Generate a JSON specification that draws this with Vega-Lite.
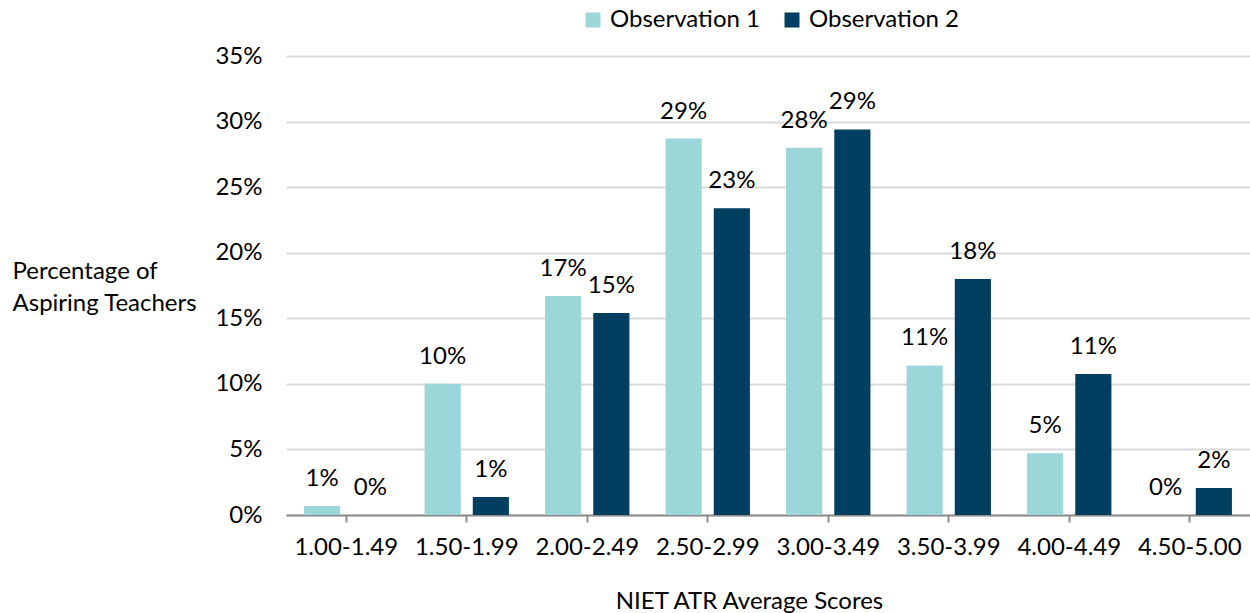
{
  "$schema": "https://vega.github.io/schema/vega-lite/v6.json",
  "width": 964,
  "height": 459,
  "autosize": {"type": "none"},
  "padding": {"left": 286, "top": 56, "right": 0, "bottom": 98},
  "background": "white",
  "config": {
    "font": "Lato",
    "view": {"stroke": null}
  },
  "data": {
    "values": [
      {"range": "1.00-1.49", "obs": "Observation 1", "pct": 0.0069, "label": "1%"},
      {"range": "1.00-1.49", "obs": "Observation 2", "pct": 0.0, "label": "0%"},
      {"range": "1.50-1.99", "obs": "Observation 1", "pct": 0.1, "label": "10%"},
      {"range": "1.50-1.99", "obs": "Observation 2", "pct": 0.0137, "label": "1%"},
      {"range": "2.00-2.49", "obs": "Observation 1", "pct": 0.167, "label": "17%"},
      {"range": "2.00-2.49", "obs": "Observation 2", "pct": 0.154, "label": "15%"},
      {"range": "2.50-2.99", "obs": "Observation 1", "pct": 0.287, "label": "29%"},
      {"range": "2.50-2.99", "obs": "Observation 2", "pct": 0.234, "label": "23%"},
      {"range": "3.00-3.49", "obs": "Observation 1", "pct": 0.28, "label": "28%"},
      {"range": "3.00-3.49", "obs": "Observation 2", "pct": 0.294, "label": "29%"},
      {"range": "3.50-3.99", "obs": "Observation 1", "pct": 0.114, "label": "11%"},
      {"range": "3.50-3.99", "obs": "Observation 2", "pct": 0.18, "label": "18%"},
      {"range": "4.00-4.49", "obs": "Observation 1", "pct": 0.047, "label": "5%"},
      {"range": "4.00-4.49", "obs": "Observation 2", "pct": 0.1075, "label": "11%"},
      {"range": "4.50-5.00", "obs": "Observation 1", "pct": 0.0, "label": "0%"},
      {"range": "4.50-5.00", "obs": "Observation 2", "pct": 0.0206, "label": "2%"}
    ]
  },
  "encoding": {
    "x": {
      "field": "range",
      "type": "nominal",
      "sort": null,
      "scale": {"paddingInner": 0.3, "paddingOuter": 0.15},
      "axis": {
        "title": "NIET ATR Average Scores",
        "titleFont": "Lato",
        "titleFontSize": 24,
        "titleFontWeight": "normal",
        "titleColor": "#000000",
        "titleX": 463,
        "titlePadding": 30,
        "labelAngle": 0,
        "labelFontSize": 24,
        "labelColor": "#000000",
        "labelPadding": 13,
        "domainColor": "#8c8c8c",
        "domainWidth": 2,
        "tickColor": "#8c8c8c",
        "tickWidth": 2,
        "tickSize": 7,
        "grid": false
      }
    },
    "xOffset": {
      "field": "obs",
      "type": "nominal",
      "scale": {"paddingInner": 0.25, "paddingOuter": 0}
    },
    "y": {
      "field": "pct",
      "type": "quantitative",
      "scale": {"domain": [0, 0.35], "nice": false},
      "axis": {
        "values": [0, 0.05, 0.1, 0.15, 0.2, 0.25, 0.3, 0.35],
        "format": ".0%",
        "title": ["Percentage of", "Aspiring Teachers"],
        "titleAngle": 0,
        "titleAlign": "left",
        "titleBaseline": "alphabetic",
        "titleX": -274,
        "titleY": 222,
        "titleLineHeight": 32,
        "titleFontSize": 24,
        "titleFontWeight": "normal",
        "titleColor": "#000000",
        "labelFontSize": 24,
        "labelColor": "#000000",
        "labelPadding": 24,
        "domain": false,
        "ticks": false,
        "gridColor": "#d9d9d9",
        "gridWidth": 2
      }
    },
    "color": {
      "field": "obs",
      "type": "nominal",
      "scale": {"domain": ["Observation 1", "Observation 2"], "range": ["#9bd7d9", "#003f5f"]},
      "legend": {
        "title": null,
        "orient": "none",
        "direction": "horizontal",
        "legendX": 295,
        "legendY": -48,
        "symbolType": "square",
        "symbolSize": 225,
        "symbolStrokeWidth": 0,
        "labelFontSize": 24,
        "labelColor": "#000000",
        "columnPadding": 20,
        "labelOffset": 5
      }
    }
  },
  "layer": [
    {"mark": {"type": "bar"}},
    {
      "mark": {"type": "text", "baseline": "middle", "dy": -27, "fontSize": 24, "color": "#000000"},
      "encoding": {"text": {"field": "label"}, "color": {"value": "#000000"}}
    }
  ]
}
